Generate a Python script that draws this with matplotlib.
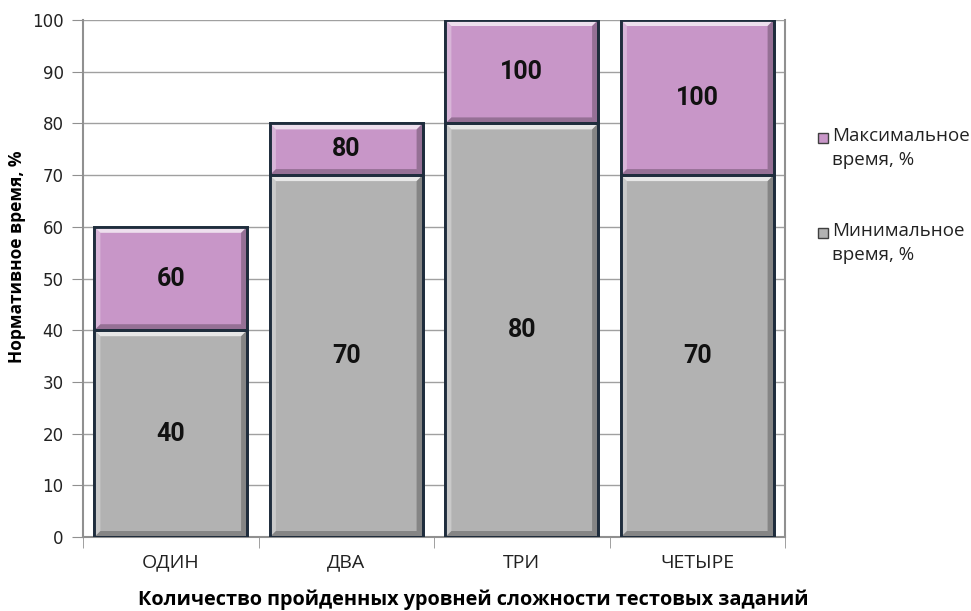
import matplotlib.pyplot as plt
from matplotlib.patches import Polygon, Rectangle

# уровни сложности и нормативное время
categories = ['ОДИН', 'ДВА', 'ТРИ', 'ЧЕТЫРЕ']
min_time = [40, 70, 80, 70]
max_time = [60, 80, 100, 100]

purple = '#C896C8'
gray = '#B2B2B2'
outline = '#1F2D3D'

fig = plt.figure(figsize=(9.71, 6.11), dpi=100)
ax = fig.add_axes([83 / 971, 74 / 611, 702 / 971, 517 / 611])

x = list(range(len(categories)))
top_part = [mx - mn for mx, mn in zip(max_time, min_time)]

bars_min = ax.bar(x, min_time, width=0.87, color=gray, edgecolor=outline,
                  linewidth=2, zorder=3)
bars_max = ax.bar(x, top_part, bottom=min_time, width=0.87, color=purple,
                  edgecolor=outline, linewidth=2, zorder=3)

ax.set_xlim(-0.5, len(categories) - 0.5)
ax.set_ylim(0, 100)

# шаг пикселя в единицах данных
px_x = (len(categories)) / 702
px_y = 100 / 517


def bevel(patch):
    x0, y0 = patch.get_x(), patch.get_y()
    w, h = patch.get_width(), patch.get_height()
    x1, y1 = x0 + w, y0 + h
    dx, dy = 6 * px_x, 6 * px_y
    ix0, ix1, iy0, iy1 = x0 + dx, x1 - dx, y0 + dy, y1 - dy
    sides = [
        ([(x0, y1), (x1, y1), (ix1, iy1), (ix0, iy1)], 'white', 0.7),
        ([(x0, y0), (x0, y1), (ix0, iy1), (ix0, iy0)], 'white', 0.3),
        ([(x0, y0), (x1, y0), (ix1, iy0), (ix0, iy0)], 'black', 0.25),
        ([(x1, y0), (x1, y1), (ix1, iy1), (ix1, iy0)], 'black', 0.25),
    ]
    for pts, c, a in sides:
        ax.add_patch(Polygon(pts, closed=True, facecolor=c, alpha=a,
                             edgecolor='none', zorder=4))
    ax.add_patch(Rectangle((x0, y0), w, h, fill=False, edgecolor=outline,
                           linewidth=2, zorder=5))


for p in list(bars_min) + list(bars_max):
    bevel(p)

for i in x:
    ax.text(i, min_time[i] / 2, str(min_time[i]), ha='center', va='center',
            fontsize=18, fontweight='bold', family='Roboto', zorder=6,
            color='#111111')
    ax.text(i, (min_time[i] + max_time[i]) / 2, str(max_time[i]),
            ha='center', va='center', fontsize=18, fontweight='bold',
            family='Roboto', zorder=6, color='#111111')

ax.set_yticks(range(0, 101, 10))
ax.yaxis.grid(True, color='#A0A0A0', linewidth=1, zorder=0)
ax.set_axisbelow(True)
ax.tick_params(axis='y', labelsize=12, length=8, color='#909090', pad=6,
               labelcolor='#222222')
ax.set_xticks([i - 0.5 for i in x] + [len(categories) - 0.5], minor=True)
ax.set_xticks(x)
ax.set_xticklabels(categories, family='Open Sans', fontsize=14)
ax.tick_params(axis='x', which='major', length=0, pad=12,
               labelcolor='#222222')
ax.tick_params(axis='x', which='minor', length=8, color='#909090')
for s in ['left', 'bottom', 'right']:
    ax.spines[s].set_color('#909090')
    ax.spines[s].set_linewidth(1.5)
ax.spines['top'].set_visible(False)

ax.set_ylabel('Нормативное время, %', family='Open Sans', fontweight='bold',
              fontsize=12.5)
ax.yaxis.set_label_coords(-0.081, 0.542)
ax.set_xlabel('Количество пройденных уровней сложности тестовых заданий',
              family='Open Sans', fontweight='bold', fontsize=14.3)
ax.xaxis.set_label_coords(0.556, -0.1025)

# легенда
legend_items = [(purple, 'Максимальное\nвремя, %', 138),
                (gray, 'Минимальное\nвремя, %', 233)]
for col, label, ypx in legend_items:
    fig.patches.append(Rectangle((818 / 971, 1 - (ypx + 5) / 611), 10 / 971,
                                 10 / 611, transform=fig.transFigure,
                                 facecolor=col, edgecolor='#404040',
                                 linewidth=1))
    fig.text(832 / 971, 1 - (ypx - 11) / 611, label, family='Open Sans',
             fontsize=13.5, va='top', ha='left', linespacing=1.45,
             color='#222222')

fig.savefig('out.png', dpi=100)
